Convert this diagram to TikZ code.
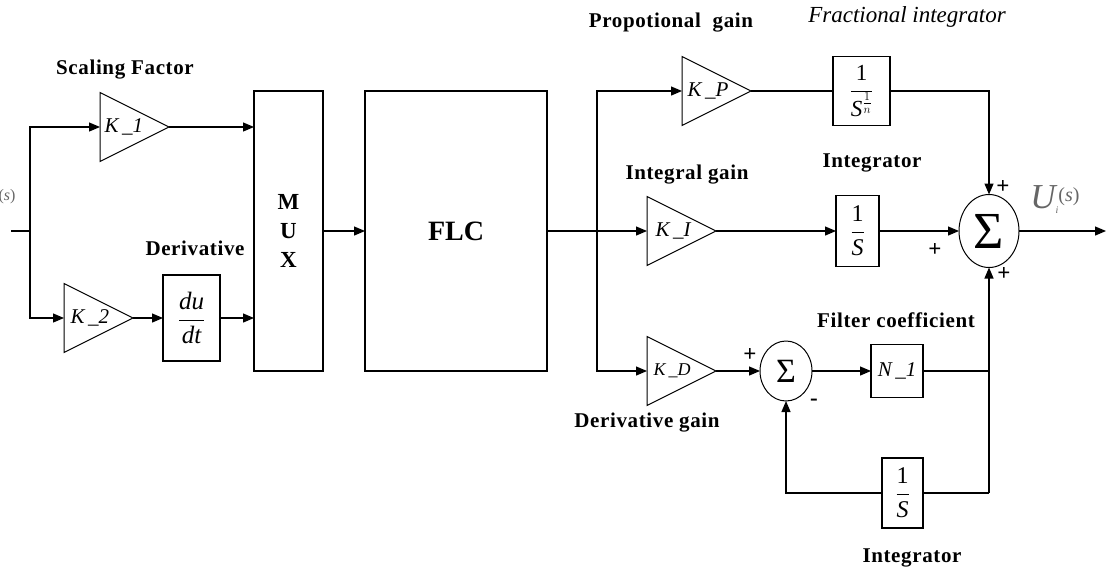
\documentclass[tikz,border=0pt]{standalone}
\usepackage{fontspec}
\setmainfont{Liberation Serif}
\newfontfamily\lblfont[LetterSpace=3]{Liberation Serif}
\usetikzlibrary{arrows.meta,shapes.geometric}
\tikzset{
  wire/.style={line width=1.2pt},
  arr/.style={wire,-{Triangle[length=11pt,width=9pt]}},
  tri/.style={draw,line width=1pt,isosceles triangle,isosceles triangle stretches,
    shape border rotate=0,minimum width=69pt,minimum height=69pt,inner sep=0pt,outer sep=0pt,anchor=west},
  blk/.style={draw,line width=1.2pt,rectangle,inner sep=0pt,outer sep=0pt},
  sumell/.style={draw,line width=1pt,ellipse,inner sep=0pt,outer sep=0pt},
  lbl/.style={font=\lblfont\bfseries\fontsize{21}{24}\selectfont,inner sep=0pt},
  kt/.style={font=\itshape\fontsize{21}{23}\selectfont,inner sep=0pt},
  sgn/.style={font=\bfseries\fontsize{23}{23}\selectfont,inner sep=0pt},
}
\begin{document}
\begin{tikzpicture}[x=1pt,y=-1pt]
\useasboundingbox (0,0) rectangle (1107,574);
% blocks
\node[tri] (k1) at (100,127) {};
\node[kt] (k1t) at (124,127) {K\,\_1};
\node[tri] (k2) at (64,318) {};
\node[kt] (k2t) at (90,318) {K\,\_2};
\node[blk,minimum width=57pt,minimum height=86pt,font=\itshape\fontsize{25}{27}\selectfont] (dudt) at (191.5,318) {$\displaystyle\frac{\mbox{du}}{\mbox{dt}}$};
\node[blk,minimum width=69pt,minimum height=280pt,align=center,font=\bfseries\fontsize{23}{29}\selectfont] (mux) at (288.5,231) {M\\U\\X};
\node[blk,minimum width=182pt,minimum height=280pt,font=\bfseries\fontsize{28}{30}\selectfont] (flc) at (456,231) {FLC};
\node[tri] (kp) at (682,91) {};
\node[kt] (kpt) at (708,91) {K\,\_P};
\node[blk,minimum width=57pt,minimum height=69pt,font=\fontsize{23}{26}\selectfont] (frac) at (861.5,91) {$\displaystyle\frac{\mbox{1}}{\mbox{\itshape S}^{\frac{1}{n}}}$};
\node[tri] (ki) at (647,231) {};
\node[kt] (kit) at (673,231) {K\,\_I};
\node[blk,minimum width=43pt,minimum height=71pt,font=\fontsize{24}{26}\selectfont] (int1) at (857.5,231) {$\displaystyle\frac{\mbox{1}}{\mbox{\itshape S}}$};
\node[sumell,minimum width=60pt,minimum height=73pt] (bigsum) at (989,231) {};
\node[inner sep=0pt,font=\fontsize{52}{52}\selectfont] (bigsumt) at (989,231) {Σ};
\node[tri] (kd) at (647,371) {};
\node[kt,font=\itshape\fontsize{18}{20}\selectfont] (kdt) at (672,371) {K\,\_D};
\node[sumell,minimum width=52pt,minimum height=60pt] (sum2) at (786,371) {};
\node[inner sep=0pt,font=\fontsize{34}{34}\selectfont] (sum2t) at (786,371) {Σ};
\node[blk,minimum width=52pt,minimum height=53pt,font=\itshape\fontsize{21}{23}\selectfont] (n1) at (897,371) {N\,\_1};
\node[blk,minimum width=41pt,minimum height=70pt,font=\fontsize{24}{26}\selectfont] (int2) at (902.5,493) {$\displaystyle\frac{\mbox{1}}{\mbox{\itshape S}}$};
% points
\coordinate (in) at (11,231);
\coordinate (j1) at (30,231);
\coordinate (j2) at (597,231);
\coordinate (j3) at (989,371);
\coordinate (j4) at (989,493);
\coordinate (out) at (1106,231);
% wires
\draw[wire] (in) -- (j1);
\draw[arr] (j1) |- (k1.west);
\draw[arr] (j1) |- (k2.west);
\draw[arr] (k1.east) -- (k1.east -| mux.west);
\draw[arr] (k2.east) -- (dudt.west);
\draw[arr] (dudt.east) -- (dudt.east -| mux.west);
\draw[arr] (mux.east) -- (flc.west);
\draw[wire] (flc.east) -- (j2);
\draw[arr] (j2) |- (kp.west);
\draw[arr] (j2) -- (ki.west);
\draw[arr] (j2) |- (kd.west);
\draw[wire] (kp.east) -- (frac.west);
\draw[arr] (frac.east) -| (bigsum.north);
\draw[arr] (ki.east) -- (int1.west);
\draw[arr] (int1.east) -- (bigsum.west);
\draw[arr] (bigsum.east) -- (out);
\draw[arr] (kd.east) -- (sum2.west);
\draw[arr] (sum2.east) -- (n1.west);
\draw[wire] (n1.east) -- (j3);
\draw[arr] (j4) -- (bigsum.south);
\draw[wire] (j4) -- (int2.east);
\draw[arr] (int2.west) -| (sum2.south);
% signs
\node[sgn] (s1) at (1003,187) {+};
\node[sgn] (s2) at (935,250) {+};
\node[sgn] (s3) at (1004,274) {+};
\node[sgn] (s4) at (750,355) {+};
\node[sgn] (s5) at (814,402) {-};
% labels
\node[lbl] (l1) at (125,70) {Scaling Factor};
\node[lbl] (l2) at (195,248) {Derivative};
\node[lbl] (l3) at (671,23) {Propotional\ \ gain};
\node[inner sep=0pt,font=\itshape\fontsize{23}{25}\selectfont] (l4) at (907,17) {Fractional integrator};
\node[lbl] (l5) at (687,175) {Integral gain};
\node[lbl] (l6) at (872,163) {Integrator};
\node[lbl] (l7) at (896,320) {Filter coefficient};
\node[lbl] (l8) at (647,423) {Derivative gain};
\node[lbl] (l9) at (912,558) {Integrator};
\node[inner sep=0pt,text=black!60,font=\fontsize{35}{37}\selectfont] (uout) at (1055,200) {\itshape U\raisebox{-5pt}{\fontsize{10}{10}\selectfont i}\raisebox{7pt}{\fontsize{20}{20}\selectfont\upshape(\itshape s\upshape)}};
\node[inner sep=0pt,text=black!60,font=\fontsize{16}{16}\selectfont] (ins) at (7,197) {(\textit{s})};
\end{tikzpicture}
\end{document}
